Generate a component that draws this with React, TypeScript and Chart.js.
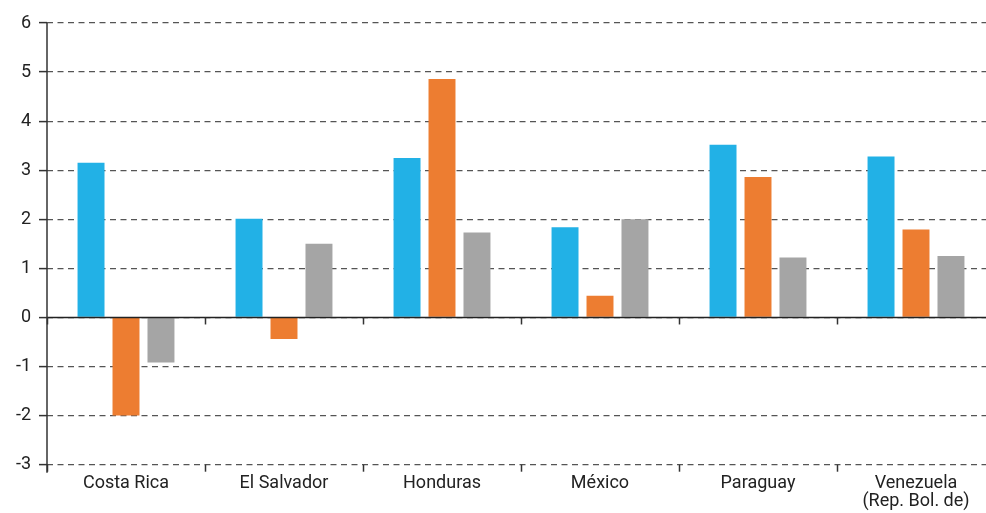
import React, { useEffect, useRef } from "react";
import { Chart, registerables } from "chart.js";

Chart.register(...registerables);

const categories: (string | string[])[] = [
  "Costa Rica",
  "El Salvador",
  "Honduras",
  "México",
  "Paraguay",
  ["Venezuela", "(Rep. Bol. de)"],
];
const seriesA = [3.15, 2.01, 3.25, 1.84, 3.52, 3.28];
const seriesB = [-2.0, -0.44, 4.86, 0.44, 2.86, 1.79];
const seriesC = [-0.92, 1.5, 1.73, 2.0, 1.22, 1.25];
const yMin = -3;
const yMax = 6;

const FONT = "Roboto, 'DejaVu Sans Condensed', sans-serif";

const axisPlugin = {
  id: "axisDecor",
  afterDatasetsDraw(chart: any) {
    const { ctx, chartArea, scales } = chart;
    const y = scales.y;
    const y0 = y.getPixelForValue(0);
    ctx.save();
    ctx.strokeStyle = "#222";
    ctx.lineWidth = 1.5;
    ctx.setLineDash([]);
    ctx.beginPath();
    ctx.moveTo(chartArea.left, y0);
    ctx.lineTo(chartArea.right, y0);
    ctx.stroke();
    // category separators
    ctx.strokeStyle = "#333";
    const n = categories.length;
    const step = (chartArea.right - chartArea.left) / n;
    for (let i = 0; i <= n; i++) {
      const px = Math.round(chartArea.left + i * step) + 0.5;
      ctx.beginPath();
      ctx.moveTo(px, y0);
      ctx.lineTo(px, y0 + 7);
      ctx.stroke();
      ctx.beginPath();
      ctx.moveTo(px, chartArea.bottom);
      ctx.lineTo(px, chartArea.bottom + 7);
      ctx.stroke();
    }
    // left axis line
    ctx.beginPath();
    ctx.moveTo(chartArea.left, chartArea.top);
    ctx.lineTo(chartArea.left, chartArea.bottom + 8);
    ctx.stroke();
    ctx.restore();
  },
};

export default function App() {
  const ref = useRef<HTMLCanvasElement | null>(null);
  useEffect(() => {
    if (!ref.current) return;
    const chart = new Chart(ref.current, {
      type: "bar",
      data: {
        labels: categories as any,
        datasets: [
          { label: "A", data: seriesA, backgroundColor: "#22B1E6" },
          { label: "B", data: seriesB, backgroundColor: "#ED7D31" },
          { label: "C", data: seriesC, backgroundColor: "#A5A5A5" },
        ],
      },
      options: {
        animation: false,
        responsive: false,
        maintainAspectRatio: false,
        layout: { padding: { top: 23, right: 0, left: 0, bottom: 0 } },
        plugins: { legend: { display: false }, tooltip: { enabled: false } },
        datasets: {
          bar: { categoryPercentage: 0.664, barPercentage: 0.771 },
        },
        scales: {
          x: {
            grid: { display: false },
            border: { display: false },
            ticks: {
              color: "#222",
              font: { family: FONT, size: 18, lineHeight: 1.0 },
              padding: 2,
              maxRotation: 0,
              autoSkip: false,
            },
            afterFit(scale: any) {
              scale.height = 48.3;
            },
          },
          y: {
            min: yMin,
            max: yMax,
            ticks: {
              stepSize: 1,
              color: "#222",
              font: { family: FONT, size: 18 },
              padding: 8,
            },
            grid: {
              color: "#555",
              lineWidth: 1.2,
              tickLength: 8,
              tickColor: "#333",
              tickWidth: 1.5,
            },
            border: { display: false, dash: [6, 4.5] },
            afterFit(scale: any) {
              scale.width = 47;
            },
          },
        },
      },
      plugins: [axisPlugin],
    });
    return () => chart.destroy();
  }, []);
  return (
    <div style={{ position: "fixed", left: 0, top: 0, width: 986, height: 513, overflow: "hidden", background: "#fff" }}>
      <canvas ref={ref} width={995} height={513} style={{ display: "block", width: 995, height: 513 }} />
    </div>
  );
}
